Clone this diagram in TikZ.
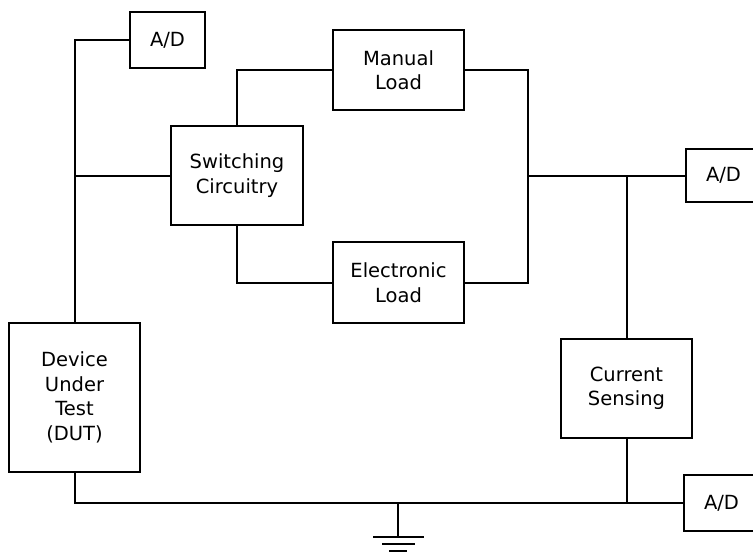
\documentclass[tikz,border=0pt]{standalone}
\usepackage{fontspec}
\setmainfont{DejaVu Sans}
\begin{document}
\begin{tikzpicture}[x=1pt,y=-1pt,
  box/.style={draw,line width=2pt,align=center,inner sep=0pt,
    font=\fontsize{19.5}{24.5}\selectfont},
  wire/.style={line width=2pt}]
\clip (0,0) rectangle (753,552);
\fill[white] (0,0) rectangle (753,552);
\node[box,minimum width=75pt,minimum height=56pt] (ad1) at (167.5,40) {A/D};
\node[box,minimum width=131pt,minimum height=80pt] (man) at (398.5,70) {Manual\\Load};
\node[box,minimum width=132pt,minimum height=99pt] (sw) at (237,175.5) {Switching\\Circuitry};
\node[box,minimum width=131pt,minimum height=81pt] (el) at (398.5,282.5) {Electronic\\Load};
\node[box,minimum width=75pt,minimum height=53pt] (ad2) at (723.5,175.5) {A/D};
\node[box,minimum width=131pt,minimum height=99pt] (cs) at (626.5,388.5) {Current\\Sensing};
\node[box,minimum width=131pt,minimum height=149pt] (dut) at (74.5,397.5) {Device\\Under\\Test\\(DUT)};
\node[box,minimum width=75pt,minimum height=56pt] (ad3) at (721.5,503) {A/D};
\coordinate (jr) at (528,175.5);
\coordinate (gnd) at (398,503);
\coordinate (g1) at (398,537);
\coordinate (g2) at (398,543.5);
\coordinate (g3) at (398,550.5);
\draw[wire] (dut.north) |- (ad1.west);
\draw[wire] (sw.west) -- (sw.west -| dut.north);
\draw[wire] (sw.north) |- (man.west);
\draw[wire] (sw.south) |- (el.west);
\draw[wire] (man.east) -| (jr) |- (el.east);
\draw[wire] (jr) -- (ad2.west);
\draw[wire] (jr -| cs.north) -- (cs.north);
\draw[wire] (cs.south) |- (ad3.west);
\draw[wire] (dut.south) |- (ad3.west);
\draw[wire] (gnd) -- (g1);
\draw[wire] ([xshift=-25pt]g1) -- ([xshift=26pt]g1);
\draw[wire] ([xshift=-16pt]g2) -- ([xshift=17pt]g2);
\draw[wire] ([xshift=-9pt]g3) -- ([xshift=9pt]g3);
\end{tikzpicture}
\end{document}
